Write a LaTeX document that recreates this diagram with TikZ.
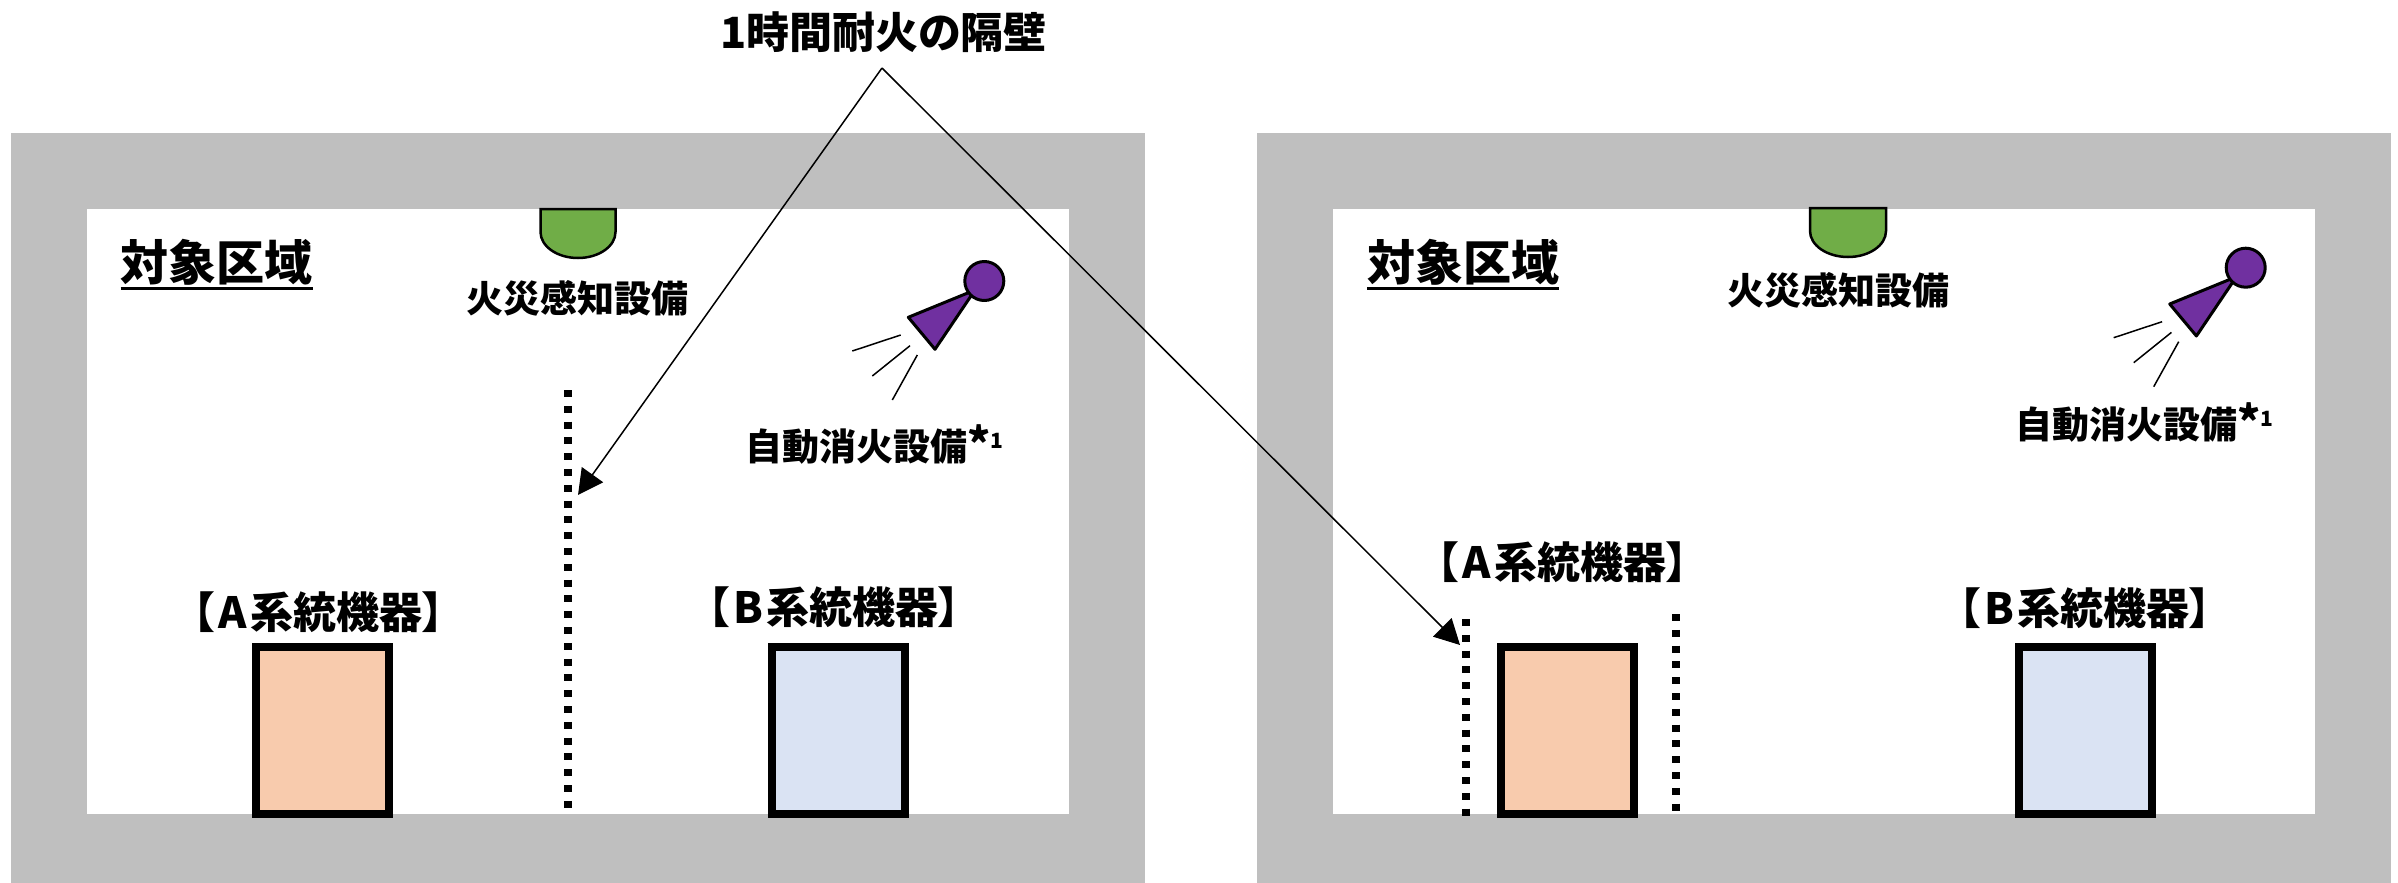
\documentclass[tikz,border=0pt]{standalone}
\usepackage{fontspec}
\setmainfont{Noto Sans CJK JP}[RawFeature=+palt]
\usetikzlibrary{arrows.meta}
\definecolor{wallgray}{HTML}{BFBFBF}
\definecolor{peach}{HTML}{F8CBAD}
\definecolor{paleblue}{HTML}{DAE3F3}
\definecolor{detgreen}{HTML}{70AD47}
\definecolor{sprpurple}{HTML}{7030A0}
\newcommand{\notemark}{\fontsize{44}{44}\selectfont *\raisebox{12pt}{\fontsize{21}{21}\selectfont 1}}
\begin{document}
\begin{tikzpicture}[x=1pt,y=-1pt,
  lbl/.style={inner sep=0pt, font=\bfseries\fontsize{#1}{#1}\selectfont},
  wallzone/.style={fill=wallgray, draw=none},
  room/.style={fill=white, draw=none},
  equip/.style={draw=black, line width=8pt, inner sep=0pt, minimum width=133pt, minimum height=167pt},
  fwall/.style={line width=8pt, dash pattern=on 7pt off 8.8pt},
  callout/.style={line width=1.5pt, -{Triangle[length=25pt,width=26pt]}},
  uline/.style={line width=3pt},
  detector/.style={fill=detgreen, draw=black, line width=2.5pt},
  sprinkler/.style={fill=sprpurple, draw=black, line width=3pt, line join=round},
  spray/.style={line width=1.5pt}]
\path[use as bounding box] (0,0) rectangle (2398,883);

% panels
\fill[wallzone] (11,133) rectangle (1145,883);
\fill[room] (86.5,208.5) rectangle (1069,814);
\fill[wallzone] (1257,133) rectangle (2391,883);
\fill[room] (1332.5,208.5) rectangle (2315,814);

% title
\node[lbl=43] (title) at (883.5,32.5) {1時間耐火の隔壁};
\coordinate (apex) at (882,68);

% ---------- left panel ----------
\node[lbl=48, anchor=west] (areaL) at (120.7,262.5) {対象区域};
\draw[uline] ([yshift=-2.7pt]areaL.south west) -- ([yshift=-2.7pt]areaL.south east);

\draw[detector] (540.5,209) -- (540.5,232) arc[start angle=180, end angle=360, x radius=37.5pt, y radius=26pt] -- (615.5,209) -- cycle;
\node[lbl=37] (detL) at (577,298) {火災感知設備};

\draw[spray] (852.3,351) -- (900.7,335);
\draw[spray] (872.3,376) -- (910,345.7);
\draw[spray] (892.3,400) -- (917.3,355);
\draw[sprinkler] (908.3,317.3) -- (935,349.3) -- (975,290) -- cycle;
\draw[sprinkler] (984.3,281) circle[radius=19.5pt];
\node[lbl=37, anchor=west] (extL) at (745,444.5) {自動消火設備\notemark};

\node[lbl=43] (aL) at (318.5,612.5) {【\kern4pt A\kern3pt 系統機器】};
\node[lbl=43] (bL) at (834,607) {【\kern4pt B\kern3pt 系統機器】};
\node[equip, fill=peach] (boxAL) at (322.5,730.5) {};
\node[equip, fill=paleblue] (boxBL) at (838,730.5) {};

\draw[fwall] (568,390) -- (568,814);
\coordinate (tipL) at (578,495);

% ---------- right panel ----------
\node[lbl=48, anchor=west] (areaR) at (1367,262.5) {対象区域};
\draw[uline] ([yshift=-2.7pt]areaR.south west) -- ([yshift=-2.7pt]areaR.south east);

\draw[detector] (1810,208) -- (1810,231) arc[start angle=180, end angle=360, x radius=38pt, y radius=26pt] -- (1886,208) -- cycle;
\node[lbl=37] (detR) at (1838,290.5) {火災感知設備};

\begin{scope}[shift={(1261.4,-13.3)}]
\draw[spray] (852.3,351) -- (900.7,335);
\draw[spray] (872.3,376) -- (910,345.7);
\draw[spray] (892.3,400) -- (917.3,355);
\draw[sprinkler] (908.3,317.3) -- (935,349.3) -- (975,290) -- cycle;
\draw[sprinkler] (984.3,281) circle[radius=19.5pt];
\end{scope}
\node[lbl=37, anchor=west] (extR) at (2015,422) {自動消火設備\notemark};

\node[lbl=43] (aR) at (1562.5,562.5) {【\kern4pt A\kern3pt 系統機器】};
\node[lbl=43] (bR) at (2085,608) {【\kern4pt B\kern3pt 系統機器】};
\node[equip, fill=peach] (boxAR) at (1567.5,730.5) {};
\node[equip, fill=paleblue] (boxBR) at (2085.5,730.5) {};

\draw[fwall] (1466,619) -- (1466,819);
\draw[fwall] (1676,614) -- (1676,814);
\coordinate (tipR) at (1460,645);

% callouts
\draw[callout] (apex) -- (tipL);
\draw[callout] (apex) -- (tipR);
\end{tikzpicture}
\end{document}
